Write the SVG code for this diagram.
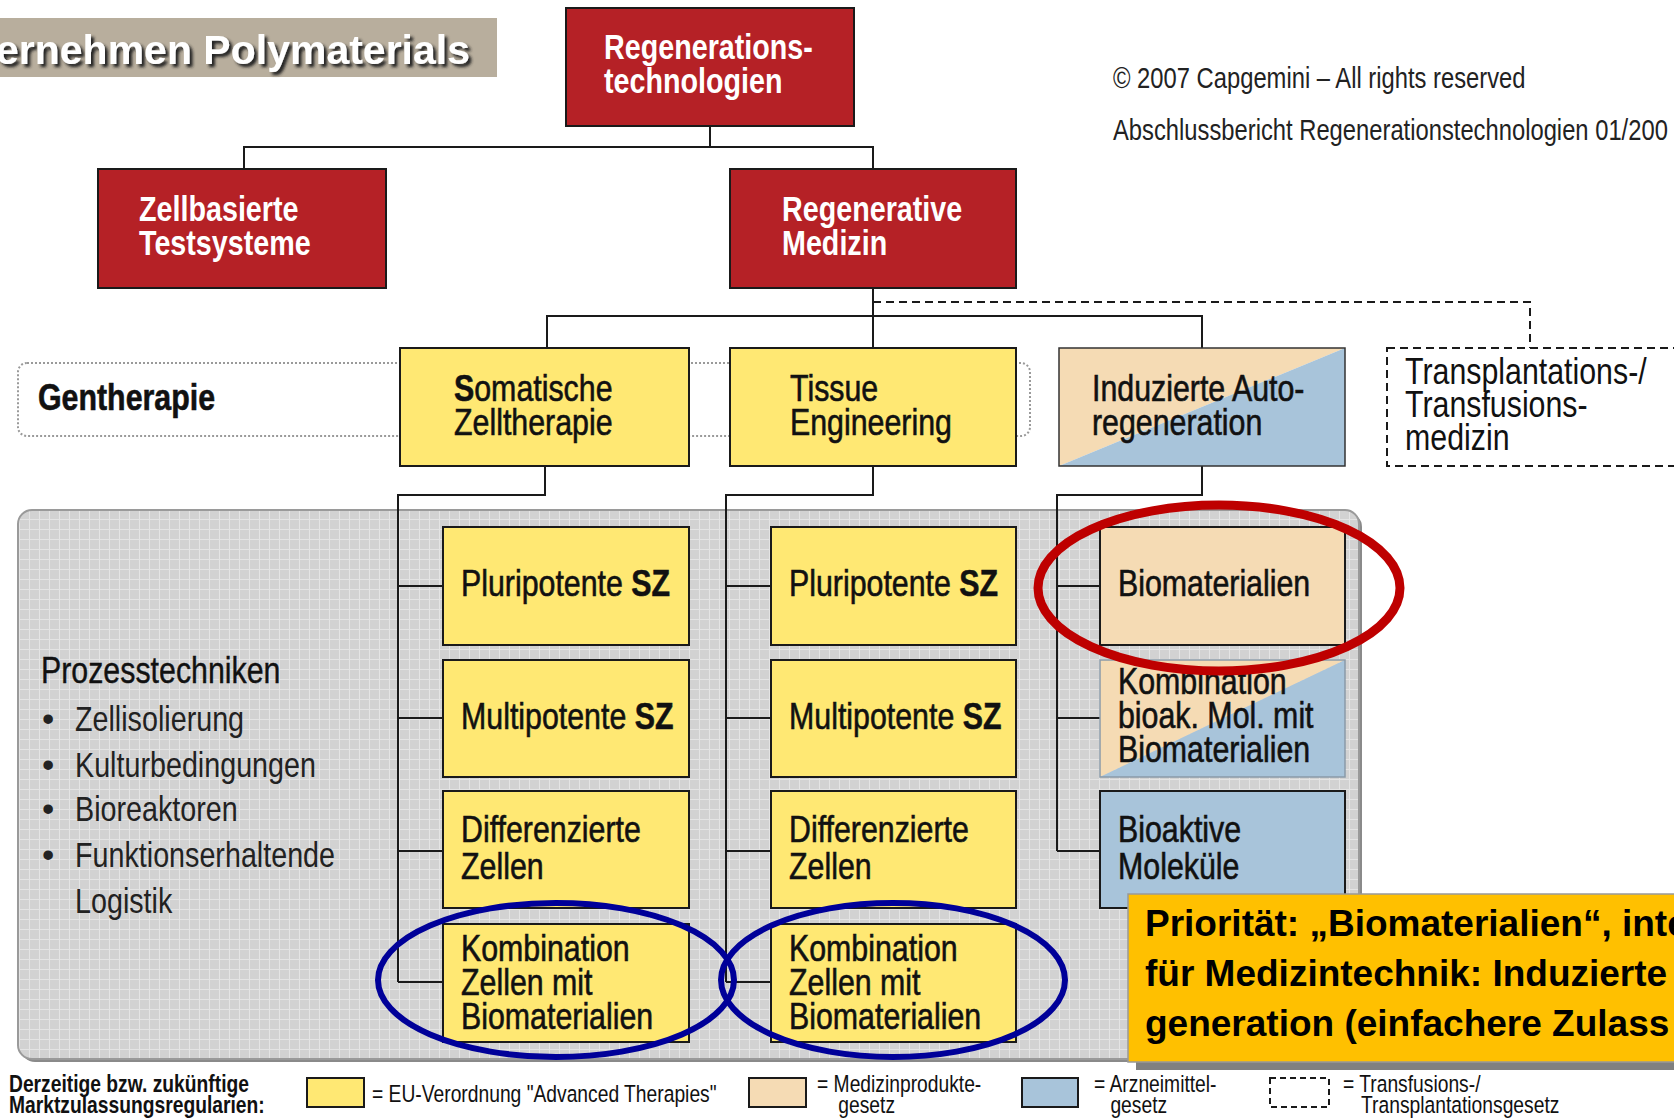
<svg xmlns="http://www.w3.org/2000/svg" width="1674" height="1120" viewBox="0 0 1674 1120">
<defs>
<style>
.red{fill:#B52126;stroke:#1a1a1a;stroke-width:2}
.yel{fill:#FFE873;stroke:#1a1a1a;stroke-width:2}
.tan{fill:#F5DBB4;stroke:#1a1a1a;stroke-width:2}
.blu{fill:#A8C4DA;stroke:#1a1a1a;stroke-width:2}
.conn{stroke:#1a1a1a;stroke-width:2;fill:none}
.dash{stroke:#1a1a1a;stroke-width:2;fill:none;stroke-dasharray:8 5}
text{font-family:'Liberation Sans',Arial,sans-serif}
.nw{font-weight:bold;font-size:35px;fill:#fff}
.nb{font-size:37px;fill:#111;stroke:#111;stroke-width:0.6}
.nr{font-size:37px;fill:#111}
.nl{font-size:35px;fill:#222}
.cp{font-size:29px;fill:#222}
.lg{font-size:23.5px;fill:#111}
.pr{font-weight:bold;font-size:37px;fill:#000}
</style>
<pattern id="grid" width="10" height="10" patternUnits="userSpaceOnUse">
<rect width="10" height="10" fill="#D2D2D2"/>
<path d="M9.5 0V10M0 9.5H10" stroke="#E4E4E4" stroke-width="1"/>
</pattern>
<filter id="sh" x="-10%" y="-30%" width="125%" height="170%">
<feGaussianBlur in="SourceAlpha" stdDeviation="1.5"/>
<feOffset dx="3" dy="3" result="b"/>
<feFlood flood-color="#222"/>
<feComposite in2="b" operator="in"/>
<feMerge><feMergeNode/><feMergeNode in="SourceGraphic"/></feMerge>
</filter>
</defs>
<rect width="1674" height="1120" fill="#fff"/>

<g id="title">
<rect x="0" y="18" width="497" height="59" fill="#B8AE9D"/>
<text x="470" y="64" text-anchor="end" font-weight="bold" font-size="41" fill="#fff" filter="url(#sh)">ernehmen Polymaterials</text>
</g>

<g id="copyright">
<text class="cp" transform="translate(1113 88) scale(.82 1)">© 2007 Capgemini – All rights reserved</text>
<text class="cp" transform="translate(1113 140) scale(.82 1)">Abschlussbericht Regenerationstechnologien 01/200</text>
</g>

<g id="gentherapie">
<rect x="18" y="363" width="1012" height="73" rx="9" fill="#fff" stroke="#9a9a9a" stroke-width="2" stroke-dasharray="2 2"/>
<text class="nb" transform="translate(38 410) scale(.82 1)" font-weight="bold" font-size="35">Gentherapie</text>
</g>

<g id="panel">
<rect x="21" y="513" width="1341" height="549" rx="14" fill="#8a8a8a"/>
<rect x="18" y="510" width="1341" height="549" rx="14" fill="url(#grid)" stroke="#9a9a9a" stroke-width="2"/>
<text class="nr" transform="translate(41 683) scale(.82 1)" font-size="38" stroke="#111" stroke-width="0.4">Prozesstechniken</text>
<g class="nl">
<text x="42" y="731">•</text>
<text x="42" y="777">•</text>
<text x="42" y="821">•</text>
<text x="42" y="867">•</text>
<text transform="translate(75 731) scale(.82 1)"><tspan x="0" y="0">Zellisolierung</tspan><tspan x="0" y="46">Kulturbedingungen</tspan><tspan x="0" y="90">Bioreaktoren</tspan><tspan x="0" y="136">Funktionserhaltende</tspan><tspan x="0" y="182">Logistik</tspan></text>
</g>
</g>

<g id="connectors">
<path class="conn" d="M710 126V147M244 169V147H873V169"/>
<path class="conn" d="M873 288V348M547 348V316H1202V348"/>
<path class="dash" d="M873 302H1530V348"/>
<path class="conn" d="M545 466V495H398V982M398 586H443M398 718H443M398 851H443M398 982H443"/>
<path class="conn" d="M873 466V495H726V982M726 586H771M726 718H771M726 851H771M726 982H771"/>
<path class="conn" d="M1202 466V495H1057V851M1057 586H1100M1057 718H1100M1057 851H1100"/>
</g>

<g id="regenerationstechnologien">
<rect class="red" x="566" y="8" width="288" height="118"/>
<text class="nw" transform="translate(604 59) scale(.82 1)"><tspan x="0" y="0">Regenerations-</tspan><tspan x="0" y="34">technologien</tspan></text>
</g>
<g id="zellbasierte">
<rect class="red" x="98" y="169" width="288" height="119"/>
<text class="nw" transform="translate(139 221) scale(.82 1)"><tspan x="0" y="0">Zellbasierte</tspan><tspan x="0" y="34">Testsysteme</tspan></text>
</g>
<g id="regenerative">
<rect class="red" x="730" y="169" width="286" height="119"/>
<text class="nw" transform="translate(782 221) scale(.82 1)"><tspan x="0" y="0">Regenerative</tspan><tspan x="0" y="34">Medizin</tspan></text>
</g>

<g id="somatische">
<rect class="yel" x="400" y="348" width="289" height="118"/>
<text class="nb" transform="translate(454 401) scale(.82 1)"><tspan x="0" y="0"><tspan font-weight="bold">S</tspan>omatische</tspan><tspan x="0" y="34">Zelltherapie</tspan></text>
</g>
<g id="tissue">
<rect class="yel" x="730" y="348" width="286" height="118"/>
<text class="nb" transform="translate(790 401) scale(.82 1)"><tspan x="0" y="0">Tissue</tspan><tspan x="0" y="34">Engineering</tspan></text>
</g>
<g id="induzierte">
<polygon points="1059,348 1345,348 1059,466" fill="#F5DBB4"/>
<polygon points="1345,348 1345,466 1059,466" fill="#A8C4DA"/>
<rect x="1059" y="348" width="286" height="118" fill="none" stroke="#333" stroke-width="1.5"/>
<text class="nb" transform="translate(1092 401) scale(.82 1)"><tspan x="0" y="0">Induzierte Auto-</tspan><tspan x="0" y="34">regeneration</tspan></text>
</g>
<g id="transplantation">
<rect x="1387" y="348" width="300" height="118" fill="#fff" class="dash"/>
<text class="nr" transform="translate(1405 384) scale(.82 1)"><tspan x="0" y="0">Transplantations-/</tspan><tspan x="0" y="33">Transfusions-</tspan><tspan x="0" y="66">medizin</tspan></text>
</g>

<g id="c1-pluri">
<rect class="yel" x="443" y="527" width="246" height="118"/>
<text class="nb" transform="translate(461 596) scale(.82 1)">Pluripotente <tspan font-weight="bold">SZ</tspan></text>
</g>
<g id="c1-multi">
<rect class="yel" x="443" y="660" width="246" height="117"/>
<text class="nb" transform="translate(461 729) scale(.82 1)">Multipotente <tspan font-weight="bold">SZ</tspan></text>
</g>
<g id="c1-diff">
<rect class="yel" x="443" y="791" width="246" height="117"/>
<text class="nb" transform="translate(461 842) scale(.82 1)"><tspan x="0" y="0">Differenzierte</tspan><tspan x="0" y="37">Zellen</tspan></text>
</g>
<g id="c1-komb">
<rect class="yel" x="443" y="924" width="246" height="118"/>
<text class="nb" transform="translate(461 961) scale(.82 1)"><tspan x="0" y="0">Kombination</tspan><tspan x="0" y="34">Zellen mit</tspan><tspan x="0" y="68">Biomaterialien</tspan></text>
</g>

<g id="c2-pluri">
<rect class="yel" x="771" y="527" width="245" height="118"/>
<text class="nb" transform="translate(789 596) scale(.82 1)">Pluripotente <tspan font-weight="bold">SZ</tspan></text>
</g>
<g id="c2-multi">
<rect class="yel" x="771" y="660" width="245" height="117"/>
<text class="nb" transform="translate(789 729) scale(.82 1)">Multipotente <tspan font-weight="bold">SZ</tspan></text>
</g>
<g id="c2-diff">
<rect class="yel" x="771" y="791" width="245" height="117"/>
<text class="nb" transform="translate(789 842) scale(.82 1)"><tspan x="0" y="0">Differenzierte</tspan><tspan x="0" y="37">Zellen</tspan></text>
</g>
<g id="c2-komb">
<rect class="yel" x="771" y="924" width="245" height="118"/>
<text class="nb" transform="translate(789 961) scale(.82 1)"><tspan x="0" y="0">Kombination</tspan><tspan x="0" y="34">Zellen mit</tspan><tspan x="0" y="68">Biomaterialien</tspan></text>
</g>

<g id="c3-bio">
<rect class="tan" x="1100" y="527" width="245" height="118"/>
<text class="nb" transform="translate(1118 596) scale(.82 1)">Biomaterialien</text>
</g>
<g id="c3-komb">
<polygon points="1100,660 1345,660 1100,777" fill="#F5DBB4"/>
<polygon points="1345,660 1345,777 1100,777" fill="#A8C4DA"/>
<rect x="1100" y="660" width="245" height="117" fill="none" stroke="#8a9aa8" stroke-width="1.5"/>
<text class="nb" transform="translate(1118 694) scale(.82 1)"><tspan x="0" y="0">Kombination</tspan><tspan x="0" y="34">bioak. Mol. mit</tspan><tspan x="0" y="68">Biomaterialien</tspan></text>
</g>
<g id="c3-bioaktiv">
<rect class="blu" x="1100" y="791" width="245" height="117"/>
<text class="nb" transform="translate(1118 842) scale(.82 1)"><tspan x="0" y="0">Bioaktive</tspan><tspan x="0" y="37">Moleküle</tspan></text>
</g>

<g id="highlights" fill="none">
<ellipse cx="1219" cy="588" rx="181" ry="83" stroke="#BE0000" stroke-width="9"/>
<ellipse cx="556" cy="980" rx="178" ry="77" stroke="#000099" stroke-width="6"/>
<ellipse cx="893" cy="980" rx="172" ry="77" stroke="#000099" stroke-width="6"/>
</g>

<g id="prioritaet">
<rect x="1136" y="902" width="560" height="168" fill="#808080"/>
<rect x="1128" y="894" width="560" height="168" fill="#FFC000" stroke="#999" stroke-width="1.5"/>
<text class="pr"><tspan x="1145" y="936">Priorität: „Biomaterialien“, inte</tspan><tspan x="1145" y="986">für Medizintechnik: Induzierte</tspan><tspan x="1145" y="1036">generation (einfachere Zulass</tspan></text>
</g>

<g id="legend">
<text class="lg" transform="translate(9 1092) scale(.82 1)" font-weight="bold"><tspan x="0" y="0">Derzeitige bzw. zukünftige</tspan><tspan x="0" y="21">Marktzulassungsregularien:</tspan></text>
<rect class="yel" x="307" y="1078" width="57" height="29"/>
<text class="lg" transform="translate(372 1102) scale(.82 1)">= EU-Verordnung "Advanced Therapies"</text>
<rect class="tan" x="749" y="1078" width="57" height="29"/>
<text class="lg" transform="translate(817 1092) scale(.82 1)"><tspan x="0" y="0">= Medizinprodukte-</tspan><tspan x="26" y="21">gesetz</tspan></text>
<rect class="blu" x="1022" y="1078" width="56" height="29"/>
<text class="lg" transform="translate(1094 1092) scale(.82 1)"><tspan x="0" y="0">= Arzneimittel-</tspan><tspan x="20" y="21">gesetz</tspan></text>
<rect x="1270" y="1078" width="59" height="29" fill="none" stroke="#1a1a1a" stroke-width="2" stroke-dasharray="6 4"/>
<text class="lg" transform="translate(1343 1092) scale(.82 1)"><tspan x="0" y="0">= Transfusions-/</tspan><tspan x="22" y="21">Transplantationsgesetz</tspan></text>
</g>
</svg>
